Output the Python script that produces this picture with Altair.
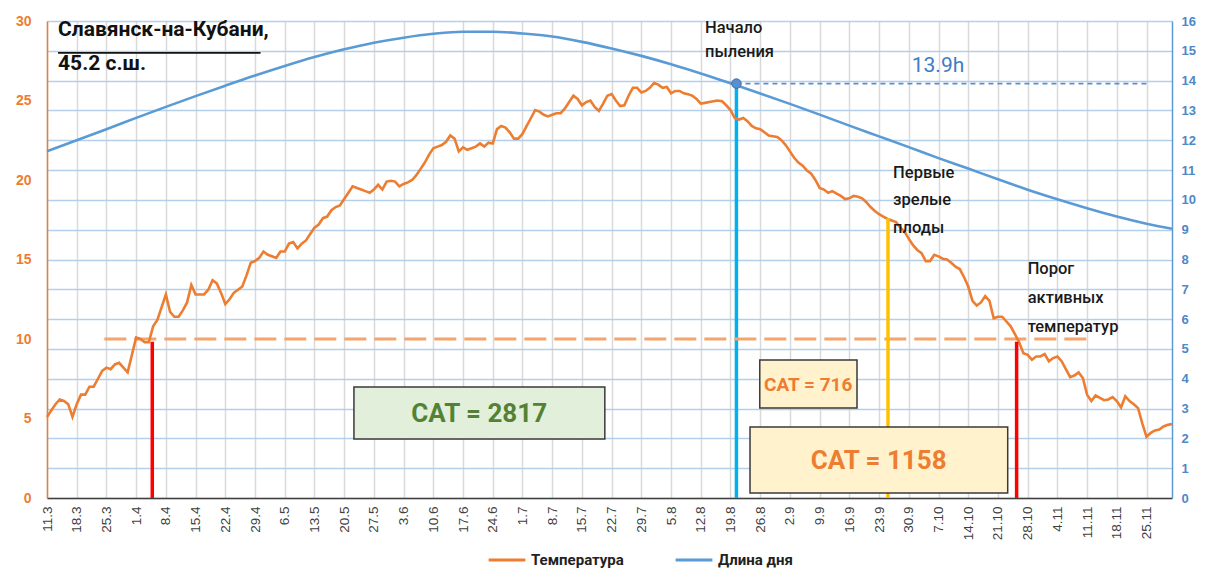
import altair as alt
import pandas as pd

# ---------------- data ----------------
temperature = [
    5.1, 5.5, 5.9, 6.2, 6.1, 5.9, 5.1, 5.9, 6.5, 6.5,
    7.0, 7.0, 7.5, 8.0, 8.2, 8.1, 8.4, 8.5, 8.2, 7.9,
    9.0, 10.1, 10.0, 9.8, 9.8, 10.8, 11.2, 12.0, 12.8, 11.7,
    11.4, 11.4, 11.8, 12.3, 13.4, 12.8, 12.8, 12.8, 13.1, 13.7,
    13.5, 12.9, 12.2, 12.5, 12.9, 13.1, 13.3, 14.0, 14.8, 14.9,
    15.1, 15.5, 15.3, 15.2, 15.1, 15.5, 15.5, 16.0, 16.1, 15.7,
    16.0, 16.2, 16.6, 17.0, 17.2, 17.6, 17.7, 18.1, 18.3, 18.4,
    18.8, 19.2, 19.6, 19.5, 19.4, 19.3, 19.2, 19.4, 19.7, 19.4,
    19.9, 19.95, 19.9, 19.6, 19.75, 19.85, 20.0, 20.3, 20.7, 21.1,
    21.6, 22.0, 22.1, 22.2, 22.4, 22.8, 22.6, 21.8, 22.05, 21.9,
    22.0, 22.1, 22.3, 22.1, 22.35, 22.3, 23.2, 23.4, 23.3, 23.0,
    22.6, 22.6, 22.9, 23.4, 23.9, 24.4, 24.3, 24.1, 24.0, 24.1,
    24.2, 24.2, 24.5, 24.9, 25.3, 25.1, 24.7, 24.9, 25.0, 24.6,
    24.35, 24.8, 25.3, 25.4, 25.0, 24.65, 24.7, 25.3, 25.8, 25.8,
    25.5, 25.6, 25.8, 26.1, 26.0, 25.8, 25.85, 25.45, 25.6, 25.6,
    25.45, 25.4, 25.3, 25.1, 24.8, 24.85, 24.9, 24.95, 25.0, 24.95,
    24.7, 24.4, 23.9, 23.8, 23.9, 23.7, 23.4, 23.25, 23.2, 23.0,
    22.8, 22.75, 22.7, 22.5, 22.2, 21.8, 21.4, 21.1, 20.9, 20.6,
    20.4, 20.0, 19.5, 19.4, 19.2, 19.3, 19.15, 19.0, 18.8, 18.85,
    19.0, 18.95, 18.85, 18.6, 18.3, 18.05, 17.85, 17.7, 17.55, 17.45,
    17.35, 17.0, 16.75, 16.3, 15.9, 15.6, 15.4, 14.9, 14.9, 15.3,
    15.2, 15.05, 15.0, 14.8, 14.55, 14.4, 13.9, 13.3, 12.4, 12.1,
    12.3, 12.7, 12.4, 11.3, 11.4, 11.4, 11.1, 10.8, 10.3, 9.8,
    9.1, 9.0, 8.7, 8.9, 8.9, 9.05, 8.6, 8.8, 8.9, 8.6,
    8.1, 7.6, 7.7, 7.9, 7.55, 6.5, 6.1, 6.45, 6.3, 6.15,
    6.2, 6.35, 6.1, 5.7, 6.4, 6.1, 5.9, 5.65, 4.7, 3.85,
    4.1, 4.25, 4.3, 4.5, 4.6, 4.65,
]

day_length_days = [0, 7, 14, 21, 28, 35, 42, 49, 56, 63, 70, 77, 84, 91, 98,
                   105, 112, 119, 126, 133, 140, 147, 154, 161, 168, 175, 182,
                   189, 196, 203, 210, 217, 224, 231, 238, 245, 252, 259, 265]
day_length = [11.63, 12.00, 12.37, 12.75, 13.12, 13.48, 13.83, 14.17, 14.49,
              14.79, 15.05, 15.27, 15.44, 15.57, 15.64, 15.64, 15.58, 15.48,
              15.30, 15.08, 14.83, 14.55, 14.24, 13.91, 13.57, 13.22, 12.86,
              12.49, 12.13, 11.77, 11.40, 11.05, 10.69, 10.34, 10.02, 9.72,
              9.44, 9.20, 9.03]

tick_days = list(range(0, 260, 7))
tick_labels = ["11.3", "18.3", "25.3", "1.4", "8.4", "15.4", "22.4", "29.4",
               "6.5", "13.5", "20.5", "27.5", "3.6", "10.6", "17.6", "24.6",
               "1.7", "8.7", "15.7", "22.7", "29.7", "5.8", "12.8", "19.8",
               "26.8", "2.9", "9.9", "16.9", "23.9", "30.9", "7.10", "14.10",
               "21.10", "28.10", "4.11", "11.11", "18.11", "25.11"]

# event markers (day index, temperature at top)
marker_days = [24.8, 198.1, 228.4]
marker_tops = [9.83, 17.6, 9.83]
marker_colors = ["#ff0000", "#ffc000", "#ff0000"]
pollination_day = 162.4
pollination_hours = 13.9
threshold_temp = 10
threshold_span = [13.5, 246]
hours_line_end = 259

series_names = ["Температура", "Длина дня"]
series_colors = ["#ed7d31", "#5b9bd5"]

cat_labels = ["САТ = 2817", "САТ = 716", "САТ = 1158"]
note_texts = ["Начало\nпыления", "Первые\nзрелые\nплоды", "Порог\nактивных\nтемператур"]

# ---------------- styling ----------------
NARROW = "Roboto"
PLAIN = "Liberation Sans"
W, H = 1125, 477

label_expr = "[" + ",".join("'%s'" % t for t in tick_labels) + "][round(datum.value/7)]"

x_scale = alt.Scale(domain=[0, 265], nice=False, zero=False)
x_axis = alt.Axis(values=tick_days, labelExpr=label_expr, title=None,
                  labelAngle=270, grid=True, gridColor="#d9d9d9", gridWidth=1.5,
                  ticks=False, domainColor="#404040", domainWidth=1.5,
                  labelFont=PLAIN, labelFontSize=13.5, labelColor="#404040",
                  labelPadding=8)

t_scale = alt.Scale(domain=[0, 30], nice=False, zero=True)
t_axis = alt.Axis(values=[0, 5, 10, 15, 20, 25, 30], orient="left", title=None,
                  labelColor="#ed7d31", labelFontWeight="bold", labelFontSize=14,
                  labelFont=PLAIN, domainColor="#ed7d31", domainWidth=1.5,
                  ticks=False, gridColor="#f8cbad", gridWidth=1.2, labelPadding=16)

h_scale = alt.Scale(domain=[0, 16], nice=False, zero=True)
h_axis = alt.Axis(values=list(range(0, 17)), orient="right", title=None,
                  labelColor="#4f87c7", labelFontWeight="bold", labelFontSize=13,
                  labelFont=PLAIN, domainColor="#5b9bd5", domainWidth=1.5,
                  ticks=False, gridColor="#b4cfea", gridWidth=1.6, labelPadding=9)


def X(field):
    return alt.X(field, type="quantitative", scale=x_scale, axis=x_axis)


def YT(field):
    return alt.Y(field, type="quantitative", scale=t_scale, axis=t_axis)


def YH(field):
    return alt.Y(field, type="quantitative", scale=h_scale, axis=h_axis)


color = alt.Color("series:N", scale=alt.Scale(domain=series_names, range=series_colors),
                  legend=alt.Legend(orient="none", legendX=440, legendY=519,
                                    direction="horizontal", title=None,
                                    symbolType="stroke", symbolSize=1350,
                                    symbolStrokeWidth=3, labelFontSize=15,
                                    labelFont=NARROW, labelColor="#222222",
                                    labelFontWeight="bold", columnPadding=45,
                                    labelLimit=0, symbolOffset=0, padding=0))

# ---------------- frames ----------------
temp_df = pd.DataFrame({"day": list(range(len(temperature))), "value": temperature,
                        "series": series_names[0]})
hours_df = pd.DataFrame({"day": day_length_days, "value": day_length,
                         "series": series_names[1]})
markers_df = pd.DataFrame({"day": marker_days, "top": marker_tops, "c": marker_colors,
                           "zero": [0] * len(marker_days)})
thresh_df = pd.DataFrame({"a": [threshold_span[0]], "b": [threshold_span[1]],
                          "v": [threshold_temp]})
poll_df = pd.DataFrame({"day": [pollination_day], "end": [hours_line_end],
                        "h": [pollination_hours], "zero": [0]})

boxes_df = pd.DataFrame({
    "x1": [72.3, 167.9, 165.6], "x2": [131.4, 190.8, 226.3],
    "y1": [6.98, 8.68, 4.47], "y2": [3.71, 5.66, 0.31],
    "fill": ["#e2efda", "#fff2cc", "#fff2cc"],
})
box_text_df = pd.DataFrame({
    "x": [101.8, 179.3, 195.9], "y": [5.3, 7.1, 2.35], "text": cat_labels,
    "size": [26, 19, 26], "c": ["#548235", "#ed7d31", "#ed7d31"],
})
note_pos_x = [155.0, 199.3, 231.0]
note_pos_y = [30.05, 20.95, 14.9]
note_line_heights = [24, 27.5, 29]

# ---------------- temperature group ----------------
threshold = alt.Chart(thresh_df).mark_rule(
    color="#f4a46c", strokeWidth=3, strokeDash=[22, 8]
).encode(x=X("a"), x2="b", y=YT("v"))

temp_line = alt.Chart(temp_df).mark_line(strokeWidth=2.6).encode(
    x=X("day"), y=YT("value"), color=color)

markers = alt.Chart(markers_df).mark_rule(strokeWidth=3.5).encode(
    x=X("day"), y=YT("zero"), y2="top", color=alt.Color("c:N", scale=None))

boxes = alt.Chart(boxes_df).mark_rect(stroke="#3a3a3a", strokeWidth=1.5).encode(
    x=X("x1"), x2="x2", y=YT("y1"), y2="y2", fill=alt.Fill("fill:N", scale=None))

box_texts = alt.Chart(box_text_df).mark_text(
    font=NARROW, fontWeight="bold", align="center", baseline="middle"
).encode(x=X("x"), y=YT("y"), text="text:N",
         size=alt.Size("size:Q", scale=None), color=alt.Color("c:N", scale=None))

note_layers = []
for nx, ny, nt, lh in zip(note_pos_x, note_pos_y, note_texts, note_line_heights):
    ndf = pd.DataFrame({"x": [nx], "y": [ny], "text": [nt]})
    note_layers.append(alt.Chart(ndf).mark_text(
        font=NARROW, fontSize=16.5, fontWeight=500, align="left", baseline="top",
        lineBreak="\n", lineHeight=lh, color="#1a1a1a"
    ).encode(x=X("x"), y=YT("y"), text="text:N"))

title_df = pd.DataFrame({"x": [2.6], "y": [30.1], "text": ["Славянск-на-Кубани,\n45.2 с.ш."]})
title = alt.Chart(title_df).mark_text(
    font=NARROW, fontSize=21, fontWeight="bold", align="left", baseline="top",
    lineBreak="\n", lineHeight=34, color="#111111"
).encode(x=X("x"), y=YT("y"), text="text:N")

underline_df = pd.DataFrame({"a": [2.6], "b": [50.3], "v": [28.0]})
underline = alt.Chart(underline_df).mark_rule(color="#111111", strokeWidth=1.8).encode(
    x=X("a"), x2="b", y=YT("v"))

temp_group = alt.layer(threshold, temp_line, markers, boxes, box_texts, *note_layers,
                       title, underline)

# ---------------- day length group ----------------
hours_line = alt.Chart(hours_df).mark_line(strokeWidth=2.6, interpolate="monotone").encode(
    x=X("day"), y=YH("value"), color=color)

poll_rule = alt.Chart(poll_df).mark_rule(color="#00b0f0", strokeWidth=3.5).encode(
    x=X("day"), y=YH("zero"), y2="h")

poll_dash = alt.Chart(poll_df).mark_rule(
    color="#5b8ed0", strokeWidth=1.6, strokeDash=[5, 4]
).encode(x=X("day"), x2="end", y=YH("h"))

poll_point = alt.Chart(poll_df).mark_point(
    filled=True, size=90, color="#5b8ed0", stroke="#3f6fa8", strokeWidth=1, opacity=1
).encode(x=X("day"), y=YH("h"))

hours_label_df = pd.DataFrame({"x": [203.7], "y": [14.5], "text": ["13.9h"]})
hours_label = alt.Chart(hours_label_df).mark_text(
    font=NARROW, fontSize=21, align="left", baseline="middle", color="#3d7cc4"
).encode(x=X("x"), y=YH("y"), text="text:N")

hours_group = alt.layer(hours_line, poll_dash, poll_rule, poll_point, hours_label)

chart = alt.layer(hours_group, temp_group).resolve_scale(
    y="independent"
).properties(
    width=W, height=H,
    autosize=alt.AutoSizeParams(type="none"),
    padding={"left": 39, "top": 13, "right": 28, "bottom": 74},
).configure_view(strokeWidth=0)

chart.save("out.html", embed_options={"renderer": "svg", "actions": False})
